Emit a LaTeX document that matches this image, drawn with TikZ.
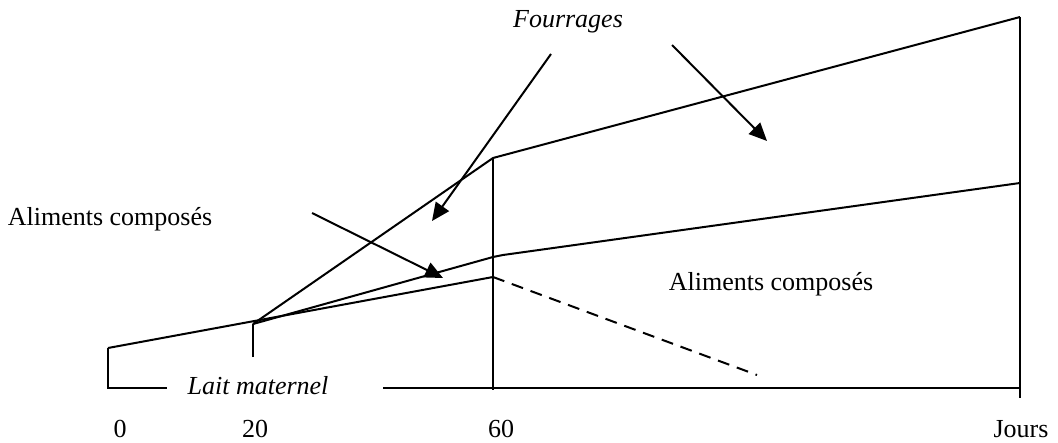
\documentclass[tikz,border=0pt]{standalone}
\usepackage{fontspec}
\setmainfont{Liberation Serif}
\usetikzlibrary{arrows.meta}
\begin{document}
\begin{tikzpicture}[x=0.5pt,y=-0.5pt,
  ln/.style={line width=1pt,line join=miter},
  arr/.style={line width=1pt,-{Triangle[length=9pt,width=8pt]}},
  lbl/.style={font=\fontsize{13}{15}\selectfont,inner sep=0pt},
  ilbl/.style={font=\fontsize{13}{15}\selectfont\itshape,inner sep=0pt}]
\useasboundingbox (0,0) rectangle (1058,443);
% coordinates
\coordinate (A0) at (108,348);
\coordinate (B0) at (108,388);
\coordinate (B1) at (167,388);
\coordinate (B2) at (383,388);
\coordinate (B3) at (1020,388);
\coordinate (T20a) at (253,357);
\coordinate (T20b) at (253,324);
\coordinate (L60) at (493,277);
\coordinate (M60) at (493,257);
\coordinate (Mk) at (503,255);
\coordinate (U60) at (493,158);
\coordinate (V60b) at (493,390);
\coordinate (Rt) at (1020,17);
\coordinate (Rm) at (1020,183);
\coordinate (Rb) at (1020,398);
\coordinate (D1) at (757,375);
% texts
\node[ilbl] (four) at (568,22) {Fourrages};
\node[lbl] (acl) at (110,219) {Aliments composés};
\node[lbl] (acr) at (771,284) {Aliments composés};
\node[ilbl] (lait) at (258,386) {Lait maternel};
\node[lbl] (n0) at (120,429) {0};
\node[lbl] (n20) at (255,429) {20};
\node[lbl] (n60) at (501,429) {60};
\node[lbl] (jours) at (1021,429) {Jours};
% arrow endpoints
\coordinate (F1s) at (551,54);
\coordinate (F1e) at (432,221);
\coordinate (F2s) at (672,45);
\coordinate (F2e) at (767,141);
\coordinate (Cs) at (312,213);
\coordinate (Ce) at (443,278);
% axes and frame
\draw[ln] (A0) -- (B0) -- (B1);
\draw[ln] (B2) -- (B3);
\draw[ln] (Rt) -- (Rb);
\draw[ln] (U60) -- (V60b);
\draw[ln] (T20a) -- (T20b);
% curves
\draw[ln] (A0) -- (L60);
\draw[ln] (T20b) -- (M60) -- (Mk) -- (Rm);
\draw[ln] (T20b) -- (U60) -- (Rt);
\draw[ln,dash pattern=on 6pt off 4pt] (L60) -- (D1);
% arrows
\draw[arr] (F1s) -- (F1e);
\draw[arr] (F2s) -- (F2e);
\draw[arr] (Cs) -- (Ce);
\end{tikzpicture}
\end{document}
